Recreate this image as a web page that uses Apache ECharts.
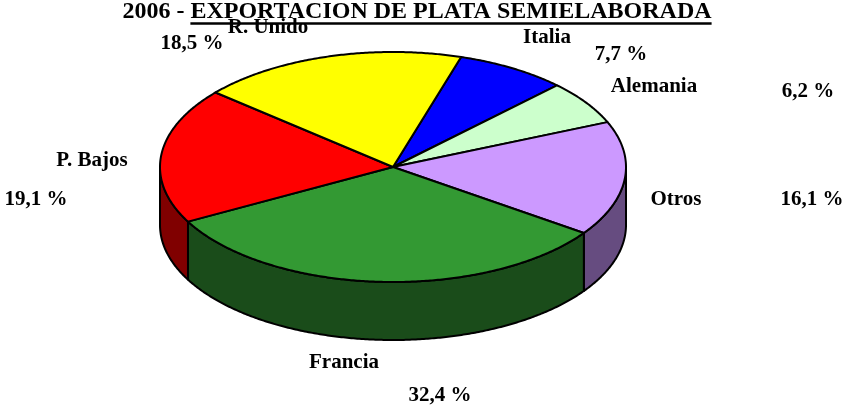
<!DOCTYPE html>
<html lang="es">
<head>
    <meta charset="utf-8">
    <title>2006 - Exportacion de plata semielaborada</title>
    <style type="text/css">
        html, body { margin: 0; padding: 0; background: #fff; }
        #page { width: 845px; height: 407px; }
    </style>
</head>
<body>

<div id="page"></div>

<script src="https://cdn.jsdelivr.net/npm/echarts@6/dist/echarts.min.js"></script>
<script>
    // datos, en el orden del grafico (sentido horario desde Italia)
    var names = ['Italia', 'Alemania', 'Otros', 'Francia', 'P. Bajos', 'R. Unido'];
    var shares = [7.7, 6.2, 16.1, 32.4, 19.1, 18.5];

    var titleYear = '2006 - ';
    var titleText = 'EXPORTACION DE PLATA SEMIELABORADA';

    (function () {
        var topColors = ['#0000ff', '#ccffcc', '#cc99ff', '#339933', '#ff0000', '#ffff00'];
        var sideColors = ['#000080', '#668066', '#664c80', '#1a4c1a', '#800000', '#808000'];

        // posicion de las etiquetas (nombre y porcentaje)
        var namePos = [[547, 38], [654, 87], [676, 200], [344, 363], [92, 161], [268, 28]];
        var pctPos = [[621, 55], [808, 92], [812, 200], [440, 396], [36, 200], [192, 44]];

        // elipse del pastel
        var cx = 393, cy = 167, rx = 233, ry = 115, depth = 58;
        var startDeg = 73;
        var font = '"Liberation Serif", "Times New Roman", serif';

        var total = 0;
        for (var i = 0; i < shares.length; i++) total += shares[i];

        function pt(deg, dy) {
            var r = deg * Math.PI / 180;
            return [cx + rx * Math.cos(r), cy - ry * Math.sin(r) + (dy || 0)];
        }

        function arc(a0, a1, dy) {
            var pts = [];
            var n = Math.max(6, Math.ceil(Math.abs(a0 - a1) * 2));
            for (var k = 0; k <= n; k++) {
                pts.push(pt(a0 + (a1 - a0) * k / n, dy));
            }
            return pts;
        }

        function renderItem(params, api) {
            var idx = params.dataIndex;
            var before = 0;
            for (var j = 0; j < idx; j++) before += shares[j];
            var a0 = startDeg - before / total * 360;
            var a1 = a0 - api.value(0) / total * 360;

            var children = [];
            // pared lateral: solo la parte de delante (sin < 0)
            for (var k = -2; k <= 2; k++) {
                var lo = Math.max(a1, 360 * k - 180);
                var hi = Math.min(a0, 360 * k);
                if (hi > lo) {
                    var pts = arc(hi, lo, 0).concat(arc(lo, hi, depth));
                    children.push({
                        type: 'polygon',
                        shape: {points: pts},
                        style: {fill: sideColors[idx], stroke: '#000', lineWidth: 2, lineJoin: 'round'}
                    });
                }
            }
            // cara superior
            var top = [[cx, cy]].concat(arc(a0, a1, 0));
            children.push({
                type: 'polygon',
                shape: {points: top},
                style: {fill: topColors[idx], stroke: '#000', lineWidth: 2, lineJoin: 'round'}
            });
            return {type: 'group', children: children};
        }

        function fmtPct(v) {
            return v.toFixed(1).replace('.', ',') + ' %';
        }

        var graphics = [];
        for (var m = 0; m < names.length; m++) {
            graphics.push({
                type: 'text', z: 10,
                style: {
                    text: names[m], x: namePos[m][0], y: namePos[m][1],
                    fill: '#000', fontFamily: font, fontWeight: 'bold', fontSize: 21,
                    align: 'center', verticalAlign: 'middle'
                }
            });
            graphics.push({
                type: 'text', z: 10,
                style: {
                    text: fmtPct(shares[m]), x: pctPos[m][0], y: pctPos[m][1],
                    fill: '#000', fontFamily: font, fontWeight: 'bold', fontSize: 21,
                    align: 'center', verticalAlign: 'middle'
                }
            });
        }

        // titulo, con la parte subrayada medida en un canvas
        var titleSize = 24;
        var ctx = document.createElement('canvas').getContext('2d');
        ctx.font = 'bold ' + titleSize + 'px ' + font;
        var wYear = ctx.measureText(titleYear).width;
        var wText = ctx.measureText(titleText).width;
        var titleLeft = 417 - (wYear + wText) / 2;

        graphics.push({
            type: 'text', z: 20,
            style: {
                text: titleYear + titleText, x: titleLeft, y: 12,
                fill: '#000', fontFamily: font, fontWeight: 'bold', fontSize: titleSize,
                align: 'left', verticalAlign: 'middle'
            }
        });
        graphics.push({
            type: 'line', z: 20,
            shape: {x1: titleLeft + wYear, y1: 23.5, x2: titleLeft + wYear + wText, y2: 23.5},
            style: {stroke: '#000', lineWidth: 2.5}
        });

        var myChart = echarts.init(document.getElementById('page'));
        var option = {
            animation: false,
            backgroundColor: '#fff',
            graphic: graphics,
            series: [{
                type: 'custom',
                coordinateSystem: 'none',
                renderItem: renderItem,
                silent: true,
                data: shares.map(function (v, i) {
                    return {name: names[i], value: [v]};
                })
            }]
        };
        myChart.setOption(option);
    })();
</script>
</body>
</html>
